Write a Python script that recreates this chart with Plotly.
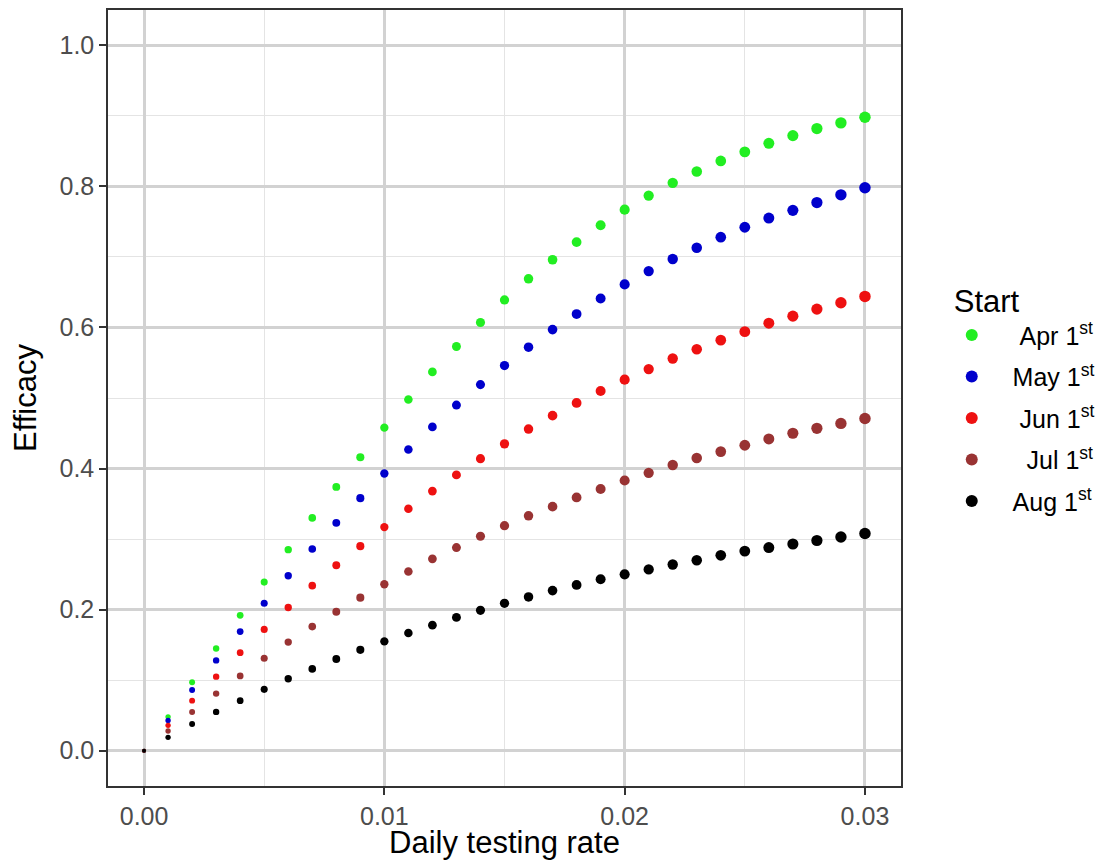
import plotly.graph_objects as go

x = [i / 1000 for i in range(31)]

apr = [0, 0.048, 0.097, 0.145, 0.192, 0.239, 0.285, 0.330, 0.374, 0.416, 0.458,
       0.498, 0.537, 0.573, 0.607, 0.639, 0.669, 0.696, 0.721, 0.745, 0.767,
       0.787, 0.805, 0.821, 0.836, 0.849, 0.861, 0.872, 0.882, 0.890, 0.898]
may = [0, 0.043, 0.086, 0.128, 0.169, 0.209, 0.248, 0.286, 0.323, 0.358, 0.393,
       0.427, 0.459, 0.490, 0.519, 0.546, 0.572, 0.597, 0.619, 0.641, 0.661,
       0.680, 0.697, 0.713, 0.728, 0.742, 0.755, 0.766, 0.777, 0.788, 0.798]
jun = [0, 0.036, 0.071, 0.105, 0.139, 0.172, 0.203, 0.234, 0.263, 0.290, 0.317,
       0.343, 0.368, 0.391, 0.414, 0.435, 0.456, 0.475, 0.493, 0.510, 0.526,
       0.541, 0.556, 0.569, 0.582, 0.594, 0.606, 0.616, 0.626, 0.635, 0.644]
jul = [0, 0.028, 0.055, 0.081, 0.106, 0.131, 0.154, 0.176, 0.197, 0.217, 0.236,
       0.254, 0.272, 0.288, 0.304, 0.319, 0.333, 0.346, 0.359, 0.371, 0.383,
       0.394, 0.405, 0.415, 0.424, 0.433, 0.442, 0.450, 0.457, 0.464, 0.471]
aug = [0, 0.019, 0.038, 0.055, 0.071, 0.087, 0.102, 0.116, 0.130, 0.143, 0.155,
       0.167, 0.178, 0.189, 0.199, 0.209, 0.218, 0.227, 0.235, 0.243, 0.250,
       0.257, 0.264, 0.270, 0.277, 0.283, 0.288, 0.293, 0.298, 0.303, 0.308]

series_names = ["Apr 1", "May 1", "Jun 1", "Jul 1", "Aug 1"]
series_vals = [apr, may, jun, jul, aug]
colors = ["#22EE22", "#0000CC", "#EE1111", "#993333", "#000000"]
# leading non-breaking spaces to right-align legend labels like the original
label_pad = [1, 0, 1, 2, 0]

x_ticks = [0.0, 0.01, 0.02, 0.03]
x_ticklabels = ["0.00", "0.01", "0.02", "0.03"]
y_ticks = [0.0, 0.2, 0.4, 0.6, 0.8, 1.0]
y_ticklabels = ["0.0", "0.2", "0.4", "0.6", "0.8", "1.0"]

sizes = [4 + 7.5 * (v / 0.03) ** 0.5 for v in x]

fig = go.Figure()
for name, vals, c, pad in zip(series_names, series_vals, colors, label_pad):
    label = "\u00a0" * (3 + pad) + name + "<sup>st</sup>"
    fig.add_trace(go.Scatter(x=x, y=vals, mode="markers", name=label,
                             legendgroup=name,
                             marker=dict(color=c, size=sizes, opacity=1,
                                         line=dict(width=0))))

fig.update_layout(
    width=1088, height=852,
    margin=dict(l=100, r=195, t=2, b=74, autoexpand=False),
    paper_bgcolor="white", plot_bgcolor="white",
    font=dict(family="Liberation Sans, Arial, sans-serif", color="black"),
    legend=dict(title=dict(text="Start", font=dict(size=31)),
                font=dict(size=25), x=1.064, xanchor="left",
                y=0.5, yanchor="middle",
                itemsizing="constant", tracegroupgap=6),
    showlegend=True,
)
fig.update_xaxes(
    range=[-0.0015, 0.0315], tickvals=x_ticks, ticktext=x_ticklabels,
    showgrid=True, gridcolor="#D2D2D2", gridwidth=2.5,
    minor=dict(tickvals=[0.005, 0.015, 0.025], showgrid=True,
               gridcolor="#E4E4E4", gridwidth=1.2),
    ticks="outside", ticklen=7, tickcolor="#333333", tickwidth=2,
    tickfont=dict(size=25, color="#4D4D4D"),
    title=dict(text="Daily testing rate", font=dict(size=31), standoff=11),
    showline=True, linecolor="#333333", linewidth=1.5, mirror=True,
    zeroline=False,
)
fig.update_yaxes(
    range=[-0.05, 1.05], tickvals=y_ticks, ticktext=y_ticklabels,
    showgrid=True, gridcolor="#D2D2D2", gridwidth=2.5,
    minor=dict(tickvals=[0.1, 0.3, 0.5, 0.7, 0.9], showgrid=True,
               gridcolor="#E4E4E4", gridwidth=1.2),
    ticks="outside", ticklen=7, tickcolor="#333333", tickwidth=2,
    tickfont=dict(size=25, color="#4D4D4D"),
    title=dict(text="Efficacy", font=dict(size=31), standoff=14),
    showline=True, linecolor="#333333", linewidth=1.5, mirror=True,
    zeroline=False,
)

fig.write_html("out.html")
